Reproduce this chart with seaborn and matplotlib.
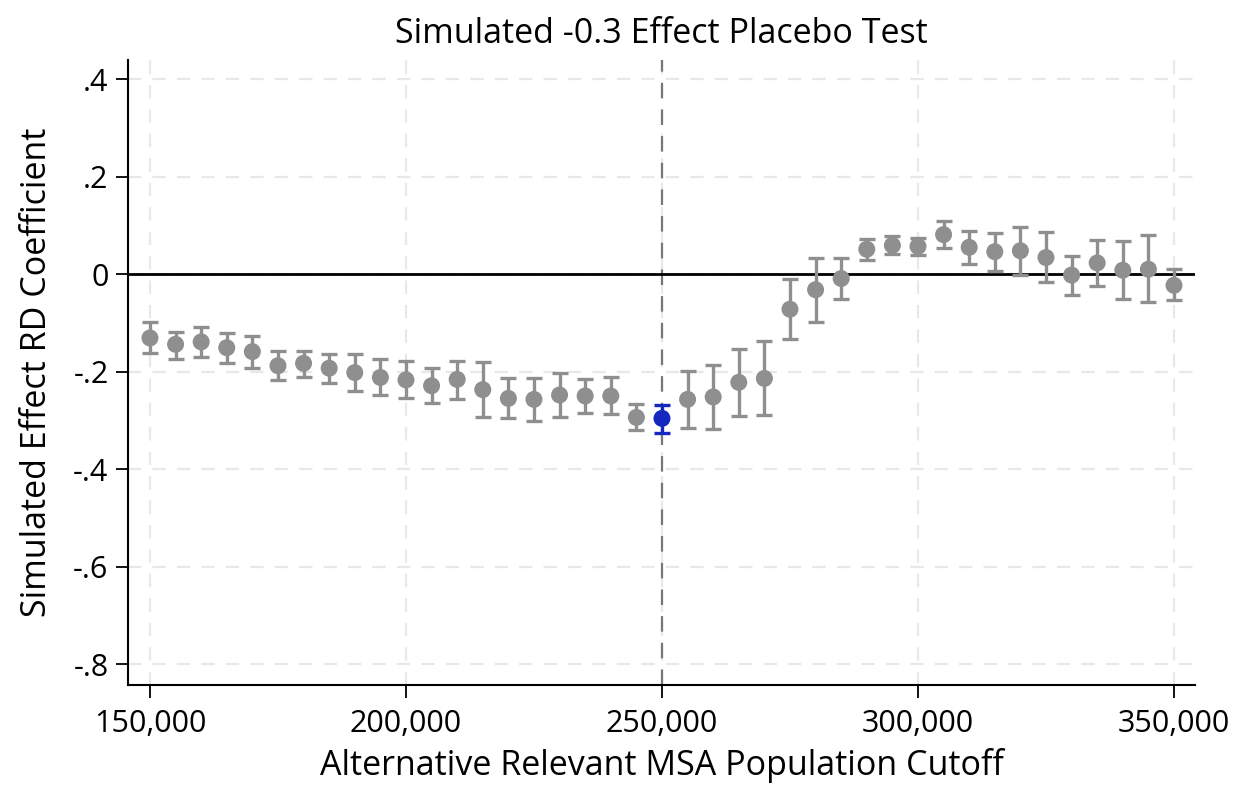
import numpy as np
import pandas as pd
import matplotlib
matplotlib.use("Agg")
import matplotlib.pyplot as plt
import seaborn as sns
from matplotlib.ticker import FuncFormatter

cutoffs = list(range(150000, 350001, 5000))
coef = [-0.131, -0.144, -0.139, -0.151, -0.159, -0.188, -0.183, -0.193, -0.202, -0.212,
        -0.217, -0.229, -0.216, -0.237, -0.255, -0.257, -0.248, -0.250, -0.250, -0.294,
        -0.296, -0.257, -0.252, -0.222, -0.214, -0.072, -0.032, -0.009, 0.051, 0.059,
        0.057, 0.081, 0.055, 0.046, 0.048, 0.034, -0.002, 0.023, 0.008, 0.010, -0.023]
ci_hi = [-0.098, -0.118, -0.109, -0.120, -0.127, -0.157, -0.157, -0.163, -0.164, -0.174,
         -0.178, -0.193, -0.178, -0.180, -0.213, -0.214, -0.202, -0.215, -0.211, -0.267,
         -0.268, -0.198, -0.187, -0.153, -0.137, -0.011, 0.033, 0.033, 0.073, 0.078,
         0.075, 0.110, 0.089, 0.085, 0.096, 0.087, 0.038, 0.070, 0.068, 0.080, 0.010]
ci_lo = [-0.161, -0.174, -0.171, -0.183, -0.193, -0.218, -0.211, -0.223, -0.239, -0.249,
         -0.255, -0.264, -0.256, -0.294, -0.296, -0.301, -0.294, -0.285, -0.288, -0.320,
         -0.325, -0.316, -0.317, -0.291, -0.290, -0.133, -0.098, -0.051, 0.029, 0.042,
         0.040, 0.053, 0.021, 0.007, -0.001, -0.017, -0.043, -0.025, -0.052, -0.057, -0.053]
true_cutoff = 250000

x_ticks = [150000, 200000, 250000, 300000, 350000]
y_ticks = [0.4, 0.2, 0.0, -0.2, -0.4, -0.6, -0.8]
y_tick_labels = [".4", ".2", "0", "-.2", "-.4", "-.6", "-.8"]

title = "Simulated -0.3 Effect Placebo Test"
xlabel = "Alternative Relevant MSA Population Cutoff"
ylabel = "Simulated Effect RD Coefficient"

df = pd.DataFrame({"cutoff": cutoffs, "coef": coef, "lo": ci_lo, "hi": ci_hi})
df["kind"] = np.where(df["cutoff"] == true_cutoff, "true", "placebo")

sns.set_theme(style="white")
plt.rcParams["font.family"] = ["Open Sans", "DejaVu Sans"]

gray = "#8f8f8f"
blue = "#1428c0"

fig = plt.figure(figsize=(12.35, 7.87), dpi=100)
ax = fig.add_axes([0.1036, 0.1296, 0.864, 0.7946])

# grid
for xt in x_ticks:
    ax.axvline(xt, color="#e8e8e8", lw=1.6, ls=(0, (6, 5)), zorder=0)
for yt in y_ticks:
    ax.axhline(yt, color="#e8e8e8", lw=1.6, ls=(0, (6, 5)), zorder=0)

ax.axvline(true_cutoff, color="#777777", lw=1.6, ls=(0, (7, 5)), zorder=1)
ax.axhline(0, color="black", lw=2.0, zorder=1)

for kind, col in [("placebo", gray), ("true", blue)]:
    sub = df[df["kind"] == kind]
    ax.errorbar(sub["cutoff"], sub["coef"],
                yerr=[sub["coef"] - sub["lo"], sub["hi"] - sub["coef"]],
                fmt="none", ecolor=col, elinewidth=2.4, capsize=6, capthick=2.4, zorder=2)

sns.scatterplot(data=df, x="cutoff", y="coef", hue="kind",
                palette={"placebo": gray, "true": blue}, s=150, edgecolor="none",
                legend=False, ax=ax, zorder=3)

ax.set_xlim(145700, 354100)
ax.set_ylim(-0.843, 0.44)
ax.set_xticks(x_ticks)
ax.xaxis.set_major_formatter(FuncFormatter(lambda v, p: f"{int(v):,}"))
ax.set_yticks(y_ticks)
ax.set_yticklabels(y_tick_labels)

for s in ["top", "right"]:
    ax.spines[s].set_visible(False)
for s in ["left", "bottom"]:
    ax.spines[s].set_color("black")
    ax.spines[s].set_linewidth(1.5)

ax.tick_params(axis="both", which="major", direction="out", length=9, width=1.3,
               color="black", labelsize=22, labelcolor="black", pad=5, bottom=True, left=True)
ax.tick_params(axis="x", pad=8)

ax.set_title(title, fontsize=24.5, color="black", pad=12)
ax.set_xlabel(xlabel, fontsize=24.5, color="black", labelpad=7)
ax.set_ylabel(ylabel, fontsize=24.5, color="black", labelpad=14)

fig.savefig("out.png", dpi=100, facecolor="white")
